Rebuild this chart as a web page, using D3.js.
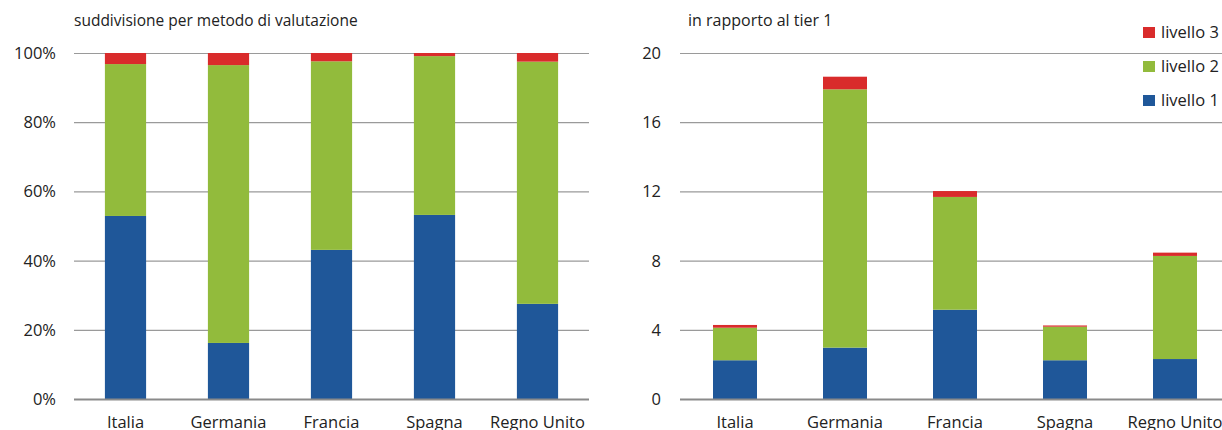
<!DOCTYPE html>
<html><head><meta charset="utf-8">
<script src="https://cdn.jsdelivr.net/npm/d3@7"></script>
<style>
body{margin:0;background:#fff;}
svg{display:block;font-family:"Open Sans",sans-serif;}
</style></head>
<body><svg id="c" width="1222" height="430"></svg>
<script>
const categories = ["Italia","Germania","Francia","Spagna","Regno Unito"];
const seriesNames = ["livello 1","livello 2","livello 3"];
const colors = ["#1f5799","#92bb3c","#d92b2b"];
// left panel: percent composition
const pctL1 = [52.9, 16.2, 43.1, 53.2, 27.5];
const pctL2 = [43.9, 80.3, 54.5, 45.9, 70.0];
const pctL3 = [3.2, 3.5, 2.4, 0.9, 2.5];
// right panel: ratio to tier 1
const ratL1 = [2.24, 2.97, 5.16, 2.24, 2.31];
const ratL2 = [1.88, 14.93, 6.52, 1.94, 5.96];
const ratL3 = [0.16, 0.73, 0.34, 0.07, 0.19];
const leftTicks = [0,20,40,60,80,100];
const rightTicks = [0,4,8,12,16,20];
const leftTitle = "suddivisione per metodo di valutazione";
const rightTitle = "in rapporto al tier 1";

const svg = d3.select("#c");
const yTop = 53, yBot = 399;

function panel(opts){
  const g = svg.append("g");
  const x = d3.scaleBand().domain(categories).range([opts.x0, opts.x1]).paddingInner(0.6).paddingOuter(0.3);
  const y = d3.scaleLinear().domain([0, opts.max]).range([yBot, yTop]);
  // grid
  g.selectAll("line.grid").data(opts.ticks.filter(t=>t>0)).join("line")
    .attr("x1", opts.gx0).attr("x2", opts.gx1)
    .attr("y1", d=>y(d)+0.5).attr("y2", d=>y(d)+0.5)
    .attr("stroke", "#9a9a9a").attr("stroke-width", 1.2);
  // tick labels
  g.selectAll("text.tick").data(opts.ticks).join("text")
    .attr("x", opts.labelX).attr("y", d=>y(d)).attr("dy", "0.36em")
    .attr("text-anchor", "end").attr("font-size", 16.5).attr("fill", "#222")
    .text(opts.fmt);
  // stacked bars
  const rows = categories.map((c,i)=>({cat:c, "livello 1":opts.s[0][i], "livello 2":opts.s[1][i], "livello 3":opts.s[2][i]}));
  const stack = d3.stack().keys(seriesNames)(rows);
  g.selectAll("g.layer").data(stack).join("g")
    .attr("fill", (d,i)=>colors[i])
    .selectAll("rect").data(d=>d).join("rect")
    .attr("x", d=>x(d.data.cat)).attr("width", x.bandwidth())
    .attr("y", d=>y(d[1])).attr("height", d=>Math.max(0, y(d[0])-y(d[1])));
  // baseline
  g.append("line").attr("x1", opts.gx0).attr("x2", opts.gx1)
    .attr("y1", y(0)+0.5).attr("y2", y(0)+0.5)
    .attr("stroke", "#8a8a8a").attr("stroke-width", 2.2);
  // category labels
  g.selectAll("text.cat").data(categories).join("text")
    .attr("x", d=>x(d)+x.bandwidth()/2).attr("y", 428)
    .attr("text-anchor", "middle").attr("font-size", 16.5).attr("fill", "#222")
    .text(d=>d);
  // title
  g.append("text").attr("x", opts.titleX).attr("y", 26)
    .attr("font-size", opts.titleSize).attr("fill", "#222").text(opts.title);
}

panel({x0:74, x1:589, gx0:74, gx1:589, max:100, ticks:leftTicks, labelX:56,
  fmt:d=>d+"%", s:[pctL1,pctL2,pctL3], title:leftTitle, titleX:74, titleSize:15.5});
panel({x0:680, x1:1230, gx0:680, gx1:1222, max:20, ticks:rightTicks, labelX:661,
  fmt:d=>d, s:[ratL1,ratL2,ratL3], title:rightTitle, titleX:688, titleSize:16});

// legend
const legendY = [100.5, 66.5, 32.5];
const lg = svg.append("g");
seriesNames.forEach((n,i)=>{
  lg.append("rect").attr("x", 1143).attr("y", legendY[i]-5.5).attr("width", 12).attr("height", 11).attr("fill", colors[i]);
  lg.append("text").attr("x", 1161).attr("y", legendY[i]).attr("dy","0.36em")
    .attr("font-size", 16.5).attr("fill", "#222").text(n);
});
</script></body></html>
